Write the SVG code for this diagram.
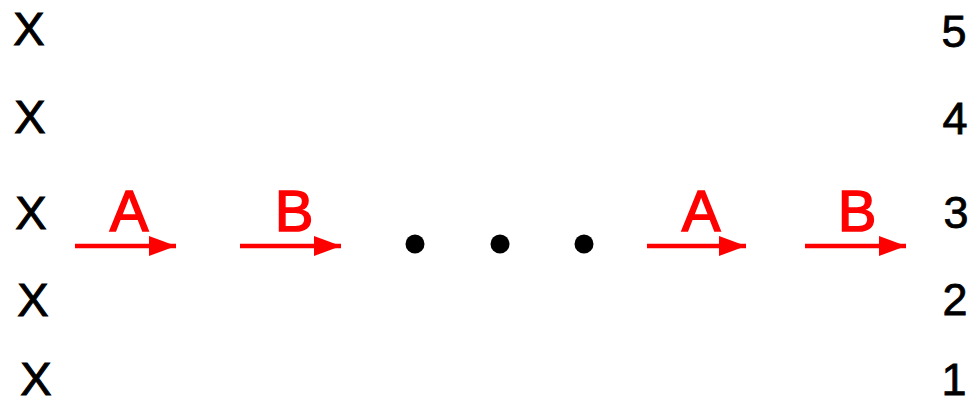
<svg xmlns="http://www.w3.org/2000/svg" width="969" height="404" viewBox="0 0 969 404">
<style>
.x{font-family:"Liberation Sans",Arial,sans-serif;font-size:47px;fill:#000;stroke:#000;stroke-width:1;text-anchor:middle}
.n{font-family:"Liberation Sans",Arial,sans-serif;font-size:45px;fill:#000;stroke:#000;stroke-width:0.8;text-anchor:middle}
.l{font-family:"Liberation Sans",Arial,sans-serif;font-size:58px;fill:#f00;stroke:#f00;stroke-width:1.5;text-anchor:middle}
.ar{stroke:#f00;stroke-width:4.5;fill:none}
.dot{fill:#000}
</style>
<defs>
<marker id="ah" markerWidth="27" markerHeight="22" refX="27" refY="11" orient="auto" markerUnits="userSpaceOnUse">
<path d="M0,1 L27,11 L0,21 Z" fill="#f00"/>
</marker>
</defs>
<rect width="969" height="404" fill="#fff"/>
<g id="xs">
<text class="x" x="29" y="45">X</text>
<text class="x" x="30" y="133">X</text>
<text class="x" x="31" y="229">X</text>
<text class="x" x="33" y="316">X</text>
<text class="x" x="36" y="395">X</text>
</g>
<g id="nums">
<text class="n" x="954" y="47">5</text>
<text class="n" x="955" y="134">4</text>
<text class="n" x="956" y="228">3</text>
<text class="n" x="955" y="315">2</text>
<text class="n" x="954" y="395">1</text>
</g>
<g id="connectors">
<line class="ar" x1="75" y1="246" x2="176" y2="246" marker-end="url(#ah)"/>
<line class="ar" x1="240" y1="246" x2="341" y2="246" marker-end="url(#ah)"/>
<line class="ar" x1="647" y1="246" x2="746" y2="246" marker-end="url(#ah)"/>
<line class="ar" x1="805" y1="246" x2="906" y2="246" marker-end="url(#ah)"/>
</g>
<g id="labels">
<text class="l" x="129" y="231">A</text>
<text class="l" x="294" y="231">B</text>
<text class="l" x="701" y="231">A</text>
<text class="l" x="857" y="231">B</text>
</g>
<g id="dots">
<circle class="dot" cx="415" cy="244" r="9.5"/>
<circle class="dot" cx="500" cy="244" r="9.5"/>
<circle class="dot" cx="584" cy="244" r="9.5"/>
</g>
</svg>
